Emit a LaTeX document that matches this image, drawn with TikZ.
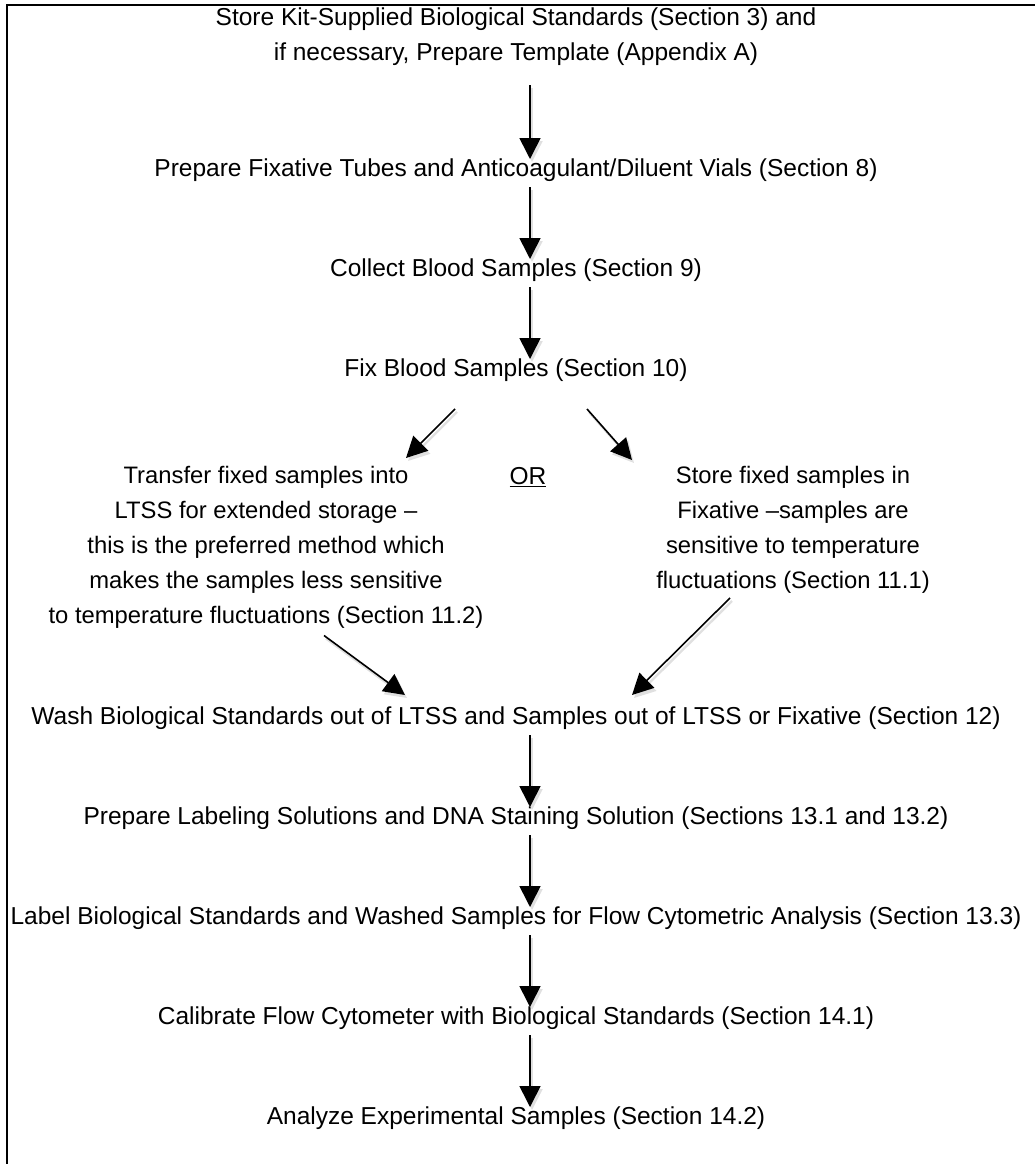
\documentclass[tikz,border=0pt]{standalone}
\usepackage{fontspec}
\setmainfont{Liberation Sans}
\usepackage{tikz}
\usetikzlibrary{arrows.meta,calc,positioning}

\tikzset{
	flow/.style={line width=1.6pt, -{Triangle[width=21pt,length=21pt]},
		preaction={draw=black!12, line width=2.4pt, transform canvas={xshift=2pt,yshift=-3pt}}},
	txt/.style={align=center, inner sep=0pt, font=\fontsize{24.5}{35}\selectfont},
	blk/.style={txt, font=\fontsize{23.8}{35}\selectfont}
}

\begin{document}
\begin{tikzpicture} [node distance=100pt, x=1pt, y=1pt]
		
		\useasboundingbox (0,0) rectangle (1035,-1164);
		
		\draw [line width=2pt] (7,-1170) -- (7,-5) -- (1040,-5);	% open frame
		
		
		\node (S_kit) [txt] at (516,-36.5) {Store Kit-Supplied Biological Standards (Section 3) and\\ if necessary, Prepare Template (Appendix A)};
		
		\node (P_tube) [txt] at (516,-170) {Prepare Fixative Tubes and Anticoagulant/Diluent Vials (Section 8)};
		
		\node (C_blood) [txt, below of= P_tube] {Collect Blood Samples (Section 9)};
		
		\node (F_blood) [txt, below of= C_blood] {Fix Blood Samples (Section 10)};
		
		\node (T_LTSS) [blk] at (266,-547.5) {Transfer fixed samples into\\ LTSS for extended storage --\\ this is the preferred method which\\ makes the samples less sensitive\\ to temperature fluctuations (Section 11.2)};
		
		\node (OR) [txt] at (528,-477) {\underline{OR}};
		
		\node (S_fix) [blk] at (793,-529.5) {Store fixed samples in\\ Fixative --samples are\\ sensitive to temperature\\ fluctuations (Section 11.1)};
		
		\node (W_std) [txt] at (516,-718) {Wash Biological Standards out of LTSS and Samples out of LTSS or Fixative (Section 12)};
		
		\node (P_lab) [txt, below of= W_std] {Prepare Labeling Solutions and DNA Staining Solution (Sections 13.1 and 13.2)};
		
		\node (L_std) [txt, below of= P_lab] {Label Biological Standards and Washed Samples for Flow Cytometric Analysis (Section 13.3)};
		
		\node (C_flow) [txt, below of= L_std] {Calibrate Flow Cytometer with Biological Standards (Section 14.1)};
		
		\node (A_exp) [txt, below of= C_flow] {Analyze Experimental Samples (Section 14.2)};
		
		
		\draw [flow] ($(S_kit) + (14,-48.5)$) to ($(P_tube) + (14,11)$);
		
		\draw [flow] ($(P_tube) + (14,-17)$) to ($(C_blood) + (14,11)$);
		
		\draw [flow] ($(C_blood) + (14,-17)$) to ($(F_blood) + (14,11)$);
		
		\draw [flow] ($(F_blood) + (-61,-39)$) to ($(T_LTSS) + (140,89.5)$);
		
		\draw [flow] ($(F_blood) + (71,-39)$) to ($(S_fix) + (-161,69.5)$);
		
		\draw [flow] ($(T_LTSS) + (58,-88)$) to ($(W_std) + (-111,23)$);
		
		\draw [flow] ($(S_fix) + (-63,-68.5)$) to ($(W_std) + (116,23)$);
		
		\draw [flow] ($(W_std) + (14,-17)$) to ($(P_lab) + (14,11)$);
		
		\draw [flow] ($(P_lab) + (14,-17)$) to ($(L_std) + (14,11)$);
		
		\draw [flow] ($(L_std) + (14,-17)$) to ($(C_flow) + (14,11)$);
		
		\draw [flow] ($(C_flow) + (14,-17)$) to ($(A_exp) + (14,11)$);
		
		
\end{tikzpicture}
\end{document}
